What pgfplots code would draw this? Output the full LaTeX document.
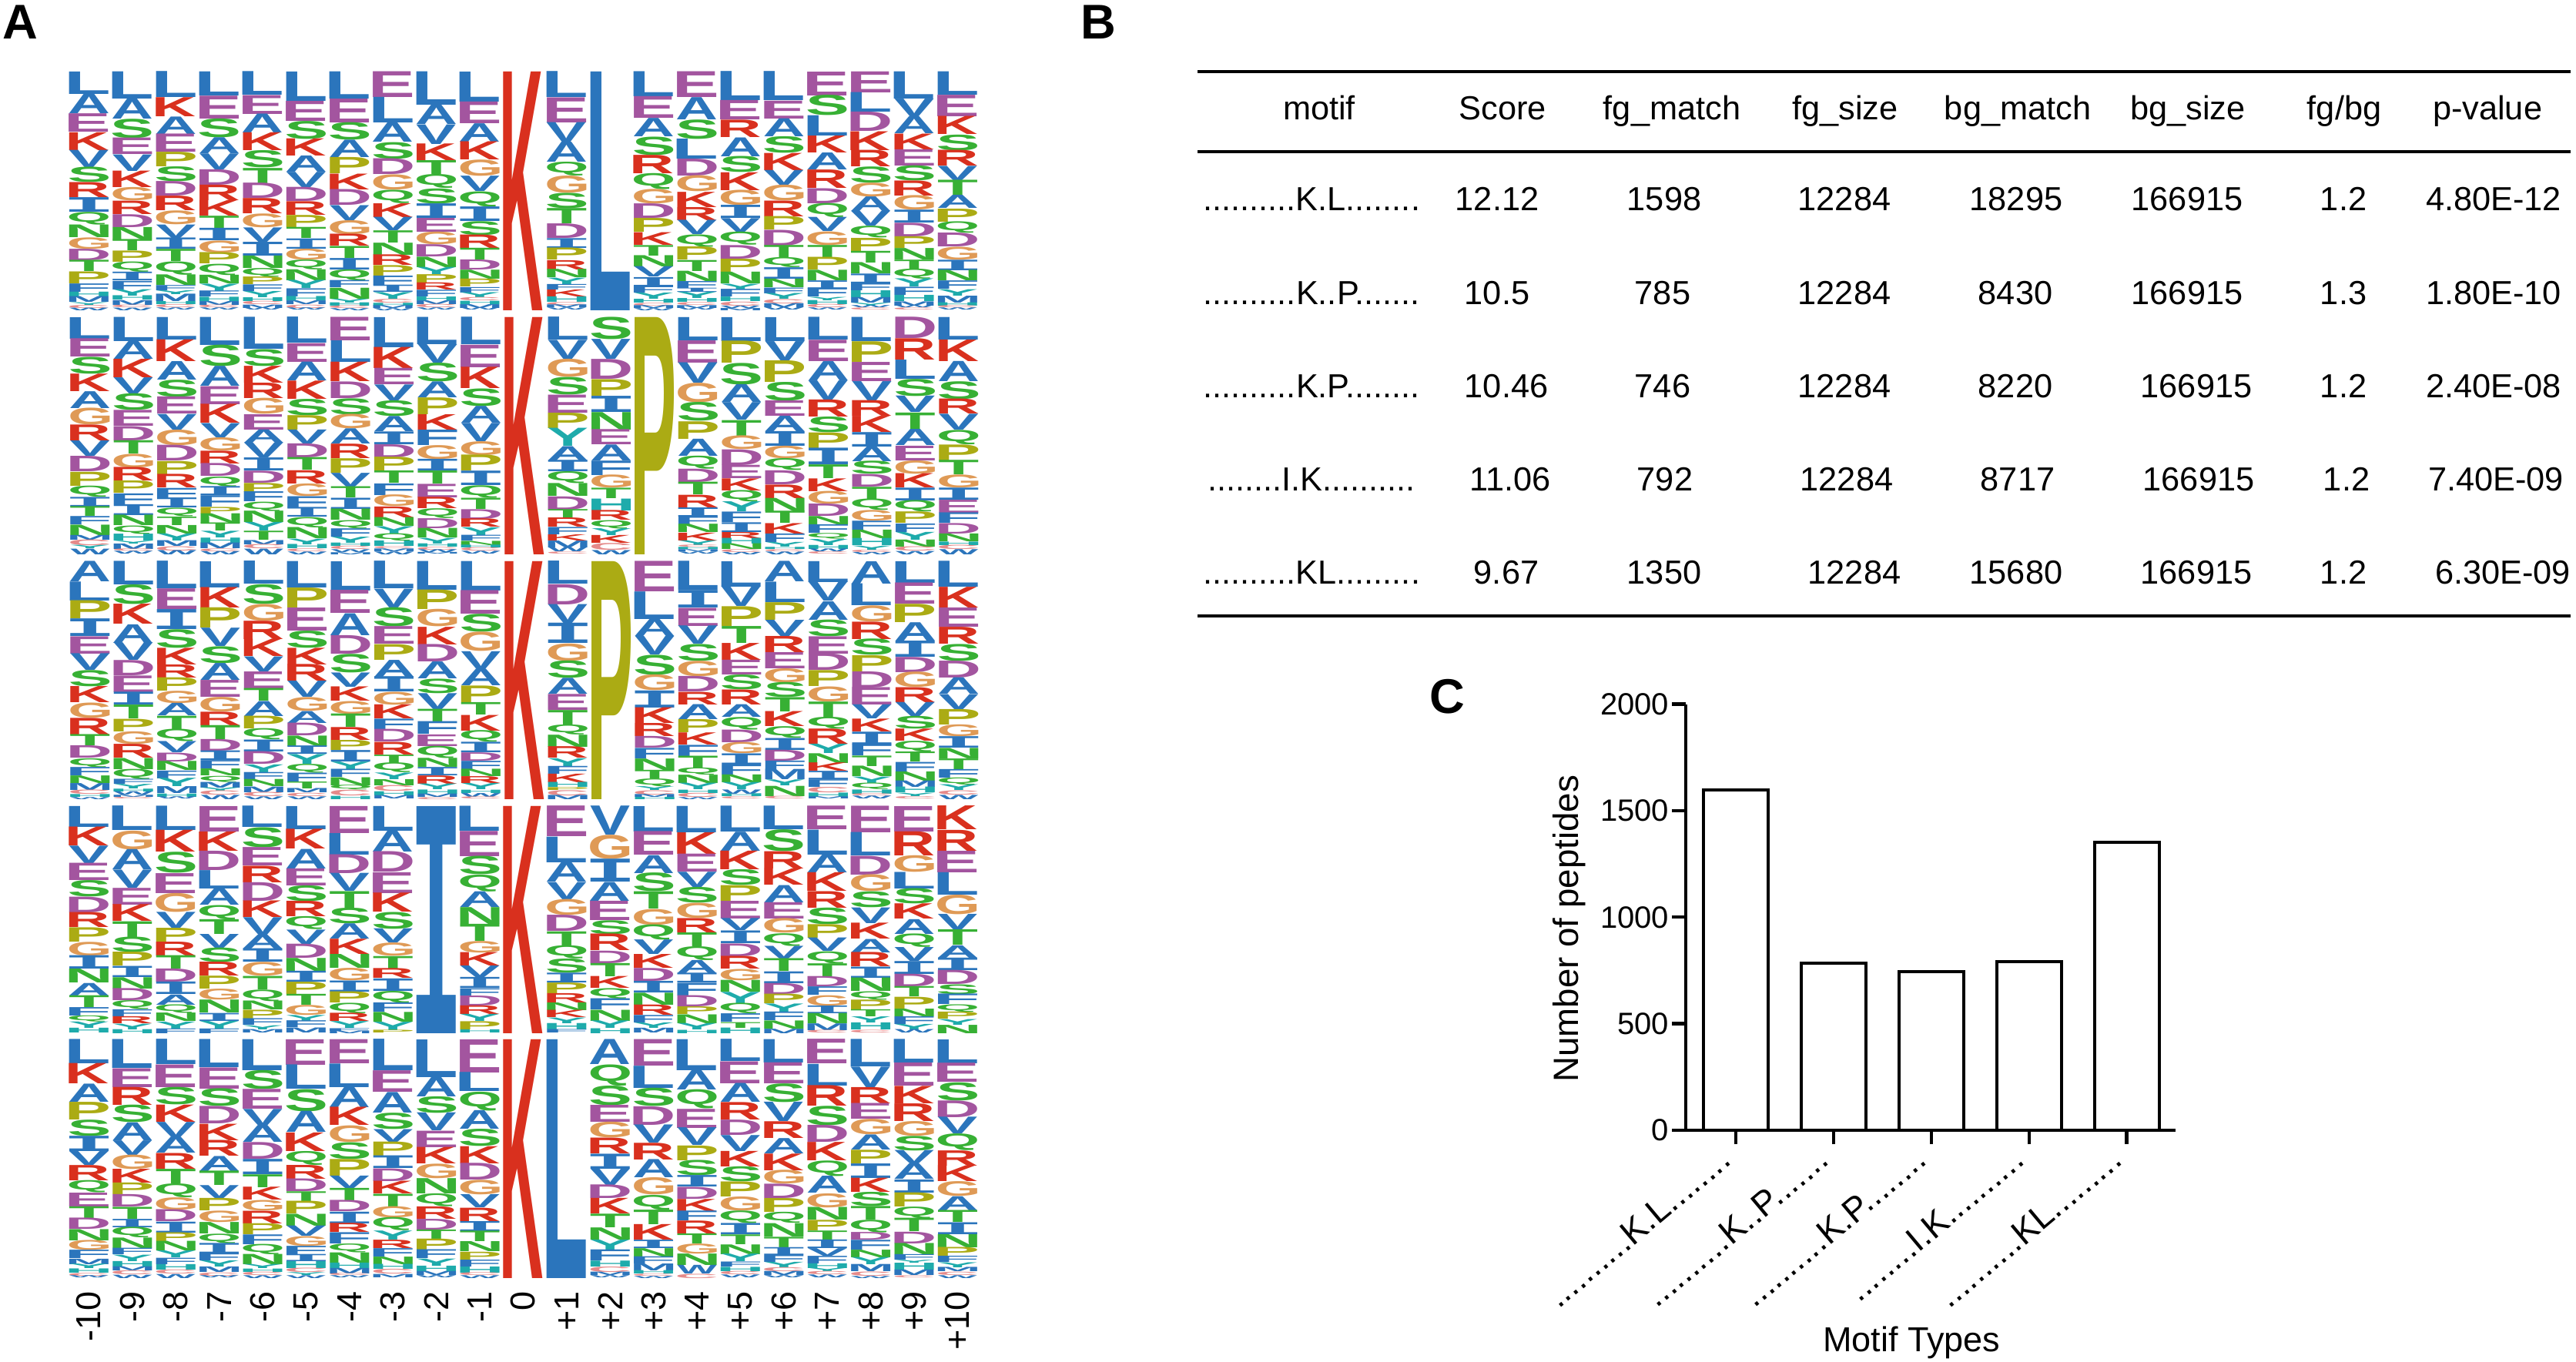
\documentclass[border=0pt]{standalone}
\usepackage{fontspec}
\setmainfont{Liberation Sans}
\newfontfamily\monof{Liberation Mono}
\usepackage{graphicx}
\usepackage{pgfplots}
\usepackage{pgfplotstable}
\pgfplotsset{compat=1.18}
\definecolor{lgA}{HTML}{2B75BC}\colorlet{lgL}{lgA}\colorlet{lgV}{lgA}\colorlet{lgI}{lgA}\colorlet{lgF}{lgA}\colorlet{lgM}{lgA}\colorlet{lgW}{lgA}
\definecolor{lgK}{HTML}{D9301E}\colorlet{lgR}{lgK}
\definecolor{lgE}{HTML}{A3559F}\colorlet{lgD}{lgE}
\definecolor{lgS}{HTML}{37B034}\colorlet{lgT}{lgS}\colorlet{lgN}{lgS}\colorlet{lgQ}{lgS}
\definecolor{lgG}{HTML}{DF9A56}
\definecolor{lgP}{HTML}{ABAB14}
\definecolor{lgY}{HTML}{1EABAB}\colorlet{lgH}{lgY}
\definecolor{lgC}{HTML}{E58A8A}
% --- each column: letters from top to bottom with their heights; stacked into a table
\newcount\lgsum \newcount\lgtop \newcount\lgcur
\def\rowdata{}
\def\lgsumeat#1#2 {\ifx#1\relax\else\advance\lgsum by #2\relax\expandafter\lgsumeat\fi}
\def\lgbld#1#2 {\ifx#1\relax\else
  \lgcur=\numexpr #2*1000/\lgsum\relax
  \advance\lgtop by -\lgcur
  \edef\lgtmp{\lgx\space\the\lgtop\space#1\the\lgcur\noexpand\\}%
  \xdef\rowdata{\unexpanded\expandafter{\rowdata}\unexpanded\expandafter{\lgtmp}}%
  \expandafter\lgbld\fi}
\newcommand\col[2]{\def\lgx{#1}\lgsum=0 \lgsumeat#2 \relax0 \lgtop=1000 \lgbld#2 \relax0 }
\newcommand\finishrow[1]{\edef\lgdo{\noexpand\pgfplotstableread[row sep=crcr]{x y m\noexpand\\\unexpanded\expandafter{\rowdata}}\noexpand#1}\lgdo\gdef\rowdata{}}
% Row 1
\col{-10}{L85 A75 E70 K68 V65 S58 R57 I55 Q48 N48 G44 D44 T43 P45 F32 H18 M22 Y10 C12 W10}
\col{-9}{L102 A75 S72 E62 V62 K62 G50 R50 D48 N46 T42 P42 Q38 I32 F32 Y24 H16 M18 C10 W10}
\col{-8}{L98 K72 A66 E68 P55 S56 D55 R55 G52 V50 I42 T46 Q50 N40 F20 Y14 M28 H12 C12 W8}
\col{-7}{L90 E85 S70 A60 V60 D58 R58 K58 T45 I46 G45 P42 Q42 N32 Y28 F22 H16 M14 C10 W8}
\col{-6}{L85 E68 A68 K65 S62 T55 D55 R55 G50 V52 I50 N45 Q32 P28 F24 Y22 H14 C12 M12 W8}
\col{-5}{L108 E74 S66 K63 A60 V56 D52 R50 P45 T40 I38 G40 Q36 N40 Y30 F30 H16 M14 C12 W8}
\col{-4}{L100 E88 S64 A64 P60 K58 D58 V55 G52 R44 T44 I42 Q40 F26 N40 Y14 H12 C10 W8}
\col{-3}{E93 L92 A70 S60 D57 G55 Q48 K50 V48 T44 N44 R38 P38 F34 I26 Y24 C14 H10 M10 W8}
\col{-2}{L120 A70 V70 K60 T50 Q50 S54 I52 E50 G45 D44 N38 Y26 P30 R26 F24 H14 M14 C12 W8}
\col{-1}{L108 E78 A66 K65 G58 V55 Q55 I52 S50 R48 T42 D36 N33 P28 F20 Y18 C12 H12 M14 W8}
\col{0}{K1000}
\col{1}{L93 E90 V70 A72 Q50 G62 S55 T55 D52 I35 P43 R33 N30 Y23 F20 K25 H20 C10 M10 W8}
\col{2}{L1000}
\col{3}{L90 E78 A66 S66 R66 Q57 G52 D52 P50 K45 T38 N40 V37 I33 F23 Y22 H14 C10 M10 W8}
\col{4}{E93 A80 S70 L72 D61 G58 K55 R47 V52 Q45 P47 T40 N37 F25 I15 Y22 H14 C10 M10 W8}
\col{5}{L100 E67 R60 A65 S55 K62 G53 I45 V47 Q45 D47 P45 N40 Y20 F26 H16 C14 W8 M8}
\col{6}{L102 E63 A63 S58 K60 V52 G55 R55 P47 D55 T43 Q35 I40 N30 F20 Y20 C15 M14 W8}
\col{7}{E85 S72 L72 K60 A60 R65 D53 Q50 V50 G48 T43 P45 N37 I30 F30 Y12 H14 C12 W8}
\col{8}{E75 L70 D69 K68 R59 S58 G50 A52 V53 Q42 P47 T42 N40 I35 F25 H25 M20 Y10 W8 C8}
\col{9}{L100 V65 A63 K58 E60 S55 R55 G53 I47 D50 P43 N42 T33 Q37 Y30 F30 H23 M16 W8 C8}
\col{10}{L85 E78 K66 S57 R57 V52 T55 A48 P48 Q42 D50 G47 I38 N38 F30 Y23 M25 H12 C8 W8}
\finishrow{\tabA}
% Row 2
\col{-10}{L77 E65 S60 K63 A60 G60 R57 V55 D55 P50 Q40 I35 T35 F30 N37 M17 C20 Y12 W20}
\col{-9}{L88 A65 K67 V59 S60 E58 D52 T48 G50 R49 P45 F40 I40 N38 Q30 H25 Y10 M20 C8 W10}
\col{-8}{L80 K77 A65 S60 E60 V55 G55 D55 P47 R48 F36 I35 Q30 T30 N30 Y25 M20 C15 W15}
\col{-7}{L98 S75 A70 E63 K67 V50 G47 R45 D45 Q35 I32 F40 P23 N33 T28 Y23 H18 M20 C10 W12}
\col{-6}{L113 S60 K60 R55 G56 E55 A47 V53 I46 D43 P32 F35 Q33 N40 Y30 T32 M15 C15 W20}
\col{-5}{L93 E67 A67 K65 S58 P52 V50 D50 T45 R47 G45 F40 I35 Q37 N40 Y20 H15 C10 W10}
\col{-4}{E85 L78 K70 D60 S58 G52 A55 R52 P52 V50 T40 I40 N40 Q30 F30 Y22 H12 C12 W10 M8}
\col{-3}{L110 K77 E60 V58 S57 A55 I47 D48 P50 T45 F42 G42 R40 N32 Y27 Q27 H20 C8 M10 W10}
\col{-2}{L98 V66 S67 A57 P60 K55 F55 G50 I42 T47 E48 R41 Q35 D36 N34 Y20 H12 C10 W10 M6}
\col{-1}{L98 E80 K76 S63 A60 V65 G50 P57 I52 Q45 T40 D35 R30 Y28 F20 N15 H10 C12 W10}
\col{0}{K1000}
\col{1}{L83 V68 G65 S63 E65 P55 Y65 A51 I41 Q43 N46 D48 T30 R33 F26 K22 M25 W15 C8}
\col{2}{S80 V72 D72 P60 I58 N63 E55 A57 F52 G47 T38 H43 R35 Q30 Y25 K28 C25 W15}
\col{3}{P1000}
\col{4}{L83 E80 V73 G70 S67 P63 A61 Q47 D48 T45 R45 I33 F28 N30 K28 Y17 C8 H8 M8 W8}
\col{5}{L85 P78 S76 A63 V62 T55 G49 D55 E47 K43 Q40 Y35 F37 I34 R22 H20 N20 C10 W8}
\col{6}{L85 V68 P77 S67 E55 A55 I52 G45 Q42 D50 R48 N47 T43 K37 F30 Y17 H8 C8 W10}
\col{7}{L80 E75 A67 V67 R60 S55 P55 I58 T48 K45 G45 D43 N29 F30 Q20 Y22 H14 W10 C8}
\col{8}{L85 P73 E68 V68 R55 K57 I51 A52 S46 D44 T43 Q40 G38 F32 N30 H25 Y14 C8 W8}
\col{9}{D75 R75 L68 S60 V58 T60 A57 E52 G47 K50 I45 Q40 P40 F30 Y28 N25 C15 W12}
\col{10}{L78 K75 A70 S62 R52 V55 Q50 P55 T50 G45 I42 E45 F36 D36 N27 H12 C15 W18}
\finishrow{\tabB}
% Row 3
\col{-10}{A73 L68 P65 I63 E62 V60 S58 K58 G55 R60 T40 D44 Q32 F30 N27 M25 C15 H10 W8}
\col{-9}{L85 S70 K72 A67 V63 D55 E60 I46 T50 P45 G45 R50 N40 Q37 F18 Y16 H10 W12 M8 C6}
\col{-8}{L100 E75 I72 S67 K60 R47 P48 G45 A45 T48 Q45 V40 D32 N33 F28 Y30 M25 H12 W8}
\col{-7}{L93 K73 P72 V65 S60 A60 E60 G53 R48 T50 D42 I34 F30 N25 Q22 M20 Y12 C15 W15}
\col{-6}{L82 S70 G60 R65 K62 V53 E60 T45 A53 P45 Q40 I42 D45 Y28 F25 N25 M20 C15 W10}
\col{-5}{L95 P72 E83 S62 K60 R60 V58 G50 A43 D45 N38 I30 Y35 Q32 F32 T25 M15 C12 W10}
\col{-4}{L103 E81 A77 D65 S65 V50 K50 G45 T47 R45 P35 I40 Y27 F28 N28 Q17 C20 H12}
\col{-3}{L98 V67 S68 E63 P56 A60 I54 G46 K50 F37 D45 R45 T30 Q35 Y24 N22 C20 H14 M12}
\col{-2}{L103 P70 G62 K63 D62 A60 S52 V57 T45 F45 E42 Q43 N32 I30 R30 Y20 H15 M12 C8}
\col{-1}{L107 E85 S65 G70 V65 A60 P60 T45 K57 Q42 I38 D30 F30 N27 R25 Y22 H12 W14 C8}
\col{0}{K1000}
\col{1}{L80 D70 V65 I70 G60 S60 A55 E55 T50 Q35 N42 R40 Y27 F27 K30 H17 P10 C18 M15}
\col{2}{P1000}
\col{3}{E107 L97 A60 V65 S70 G55 I60 K55 R46 D41 F37 N40 T30 Q28 Y13 C15 M10 H8}
\col{4}{L103 I63 E64 V65 S60 G55 D55 R45 A53 P47 K43 F40 T42 Q25 N30 Y23 H12 C14 W8}
\col{5}{L90 V70 P70 T60 K60 E52 S52 R53 A45 Q45 D45 G40 I40 F35 N28 Y25 W15 H10 C8}
\col{6}{A75 L75 P65 V60 R60 E60 G52 S55 T53 K55 Q43 I44 D40 F32 M38 Y22 N38 C10}
\col{7}{L75 V68 A67 S60 E62 D60 P57 G55 T55 Q43 R55 Y33 N35 K30 I30 F27 C20 H15 M8}
\col{8}{A80 L78 G58 R62 S58 P58 D58 E62 V50 K46 I46 F40 T37 N37 Y23 Q23 H15 C8 W10}
\col{9}{L77 E75 P65 A65 I57 D54 G55 R53 V50 S45 K43 Q38 T35 F34 N33 M23 H20 Y12 C8}
\col{10}{L92 K73 E68 R60 S60 D60 A58 V53 P55 G42 I40 N37 T38 F30 Q25 Y20 C15 W15}
\finishrow{\tabC}
% Row 4
\col{-10}{L75 K68 V63 E62 S59 D56 R54 P51 G50 I48 N50 A45 T42 F30 Q22 Y23 H17}
\col{-9}{L88 G68 A73 V65 E60 K60 T56 S55 P50 I40 N41 D43 Q32 F25 R25 Y20 H15}
\col{-8}{L87 K78 S75 E72 G68 V57 P50 R50 T48 D47 I45 A37 Q30 N30 Y25 F17}
\col{-7}{E92 K70 D70 L67 A60 Q52 T54 V50 S52 R50 P47 G40 N47 I29 Y28 F17}
\col{-6}{L77 S72 E66 R60 D67 K60 V63 A50 I48 G50 T48 Q42 N32 P32 F24 Y15 M12}
\col{-5}{L85 K73 A72 E63 S58 R57 Q48 V53 D52 N48 I40 P45 T40 G37 Y22 F25 M18}
\col{-4}{E98 L78 D68 V65 T60 S57 A55 K55 N50 G45 I40 P40 Q38 R30 Y25 F10 M10}
\col{-3}{L88 A75 D73 E75 K68 S60 V50 G47 T45 R35 I45 Q42 F33 N35 Y30 P10}
\col{-2}{I1000}
\col{-1}{L92 E93 S68 Q62 A58 N62 T63 G43 K49 V43 I40 F27 D37 R32 Y26 P30 H12}
\col{0}{K1000}
\col{1}{E110 L92 A71 V62 G57 D58 T50 Q47 S50 I35 P38 R33 N28 K26 Y20 H23 F12}
\col{2}{V105 G87 I83 A68 E70 S50 R60 D45 T48 K43 Q38 F40 N40 Y27 H18}
\col{3}{L92 E85 A65 S67 T62 G57 Q55 V52 K50 D47 I42 N43 R37 F27 Y20 M17}
\col{4}{L95 K78 E65 V55 S57 G55 R52 T50 Q50 A48 I35 F46 D40 P28 N32 Y23 H12}
\col{5}{L92 A68 K66 S56 P56 E63 V43 I45 D45 R45 G40 N42 Y40 Q37 F30 T20 H20}
\col{6}{L87 S80 R63 K60 A63 E60 G53 Q47 V47 T47 I43 D40 P35 Y30 F32 N30 M17}
\col{7}{E85 L90 A65 K67 R60 S60 P49 V48 Q44 T47 D37 F30 G38 I28 N37 M25 C10}
\col{8}{E95 L83 D67 G60 S57 V56 K57 A48 R51 I40 N48 Q30 P35 T25 Y22 H25 C10}
\col{9}{E92 R87 G60 L60 S55 K55 A53 Q48 V50 I47 D45 T37 P43 N28 F28 Y20 W12}
\col{10}{K85 R75 E77 L80 G70 V55 T55 A45 I45 D50 S35 F37 Q27 P25 Y20 N30}
\finishrow{\tabD}
% Row 5
\col{-10}{L87 K73 A65 P63 S58 I55 V50 R55 Q44 E50 T42 D40 N40 G35 F30 M20 Y16 H15 C10 W8}
\col{-9}{L105 E68 R65 S63 A65 V53 G52 K50 P42 D45 T43 I30 Q38 N38 F23 Y23 H20 M15 C15 W12}
\col{-8}{L92 E82 S63 K62 V55 A58 R57 T53 Q50 G45 D43 I40 P32 N35 Y25 F23 H20 C15 W15}
\col{-7}{L102 E77 S64 D63 K60 R57 A55 T52 V47 P45 G42 N42 Q35 I38 F26 Y23 M20 C12 W8}
\col{-6}{L112 S68 E72 V60 A60 D60 I55 T47 K47 G38 R46 P40 F35 Q37 N37 Y15 H12 C12 W10}
\col{-5}{E92 L87 S80 A75 K67 Q50 R50 D45 T35 P45 N43 V37 G35 F30 I26 H25 C15 Y10 W10}
\col{-4}{E87 L85 A73 K65 G60 S60 P60 V45 T45 D40 I42 R33 F40 Q32 N37 H20 M20 C8 W8}
\col{-3}{L112 E76 A73 S58 V45 P50 I45 D45 K45 T45 G40 Q47 Y32 R30 F30 N27 H18 C17 M12}
\col{-2}{L137 A70 S60 V65 E60 K60 G53 N55 Q47 R45 D39 T34 P40 F32 Y26 H20 M15 W8}
\col{-1}{E119 L69 Q68 A67 S62 K62 D60 G52 V47 R48 I36 T38 N36 P28 F25 H22 C10 W10}
\col{0}{K1000}
\col{1}{L1000}
\col{2}{A92 Q78 S72 E62 G58 R58 I55 V60 D50 K57 T50 N45 Y37 F40 H22 C20 M12 W8}
\col{3}{E95 L80 S65 D67 V65 R60 A65 G62 Q53 T52 K56 I30 N30 F26 M25 H12 C8 W8}
\col{4}{L109 A68 Q67 E67 V62 P52 S54 I40 D42 K43 F34 R45 T35 G35 N40 W30 C15}
\col{5}{L79 E78 A67 R62 D54 V57 K55 S53 P53 G50 Q45 I40 T35 N35 Y27 F18 H15 C12 W10}
\col{6}{L84 E76 S67 V70 R60 A55 K60 G50 D52 P50 Q40 N48 T38 I28 F25 Y20 C15 M15 W8}
\col{7}{E87 L77 R73 S68 D60 K65 Q55 A60 G50 N45 P37 T32 I30 V27 F27 H17 Y12 C12 W10}
\col{8}{L97 V73 R58 E56 G55 A53 P48 I52 K50 S50 T48 Q45 D27 F35 N27 Y25 M25 C15 W8}
\col{9}{L84 E83 K62 R63 G53 S52 V48 A55 I47 P50 Q42 T48 D42 N40 F20 Y10 H25 M20 C8}
\col{10}{L85 E68 S65 D60 V60 Q60 R55 K56 G53 A50 T43 I43 N47 P32 F22 Y18 M15 C12 W10}
\finishrow{\tabE}
% Draw one letter, its ink filling the box
\def\lgI{I}
\def\lgsplit#1#2\lgend{\def\lgHH{#2}\lgbox{#1}}
\def\lgbox#1{\begingroup
  \edef\lgthis{#1}\ifx\lgthis\lgI\monof\fi\bfseries
  \setbox0=\hbox{#1}%
  \dimen2=\XeTeXglyphbounds1 \XeTeXcharglyph`#1\relax
  \dimen4=\XeTeXglyphbounds3 \XeTeXcharglyph`#1\relax
  \setbox2=\hbox{\kern-\dimen2 \unhbox0 \kern-\dimen4}%
  \textcolor{lg#1}{\resizebox*{15.3pt}{\dimexpr\lgrs*\lgHH\relax}{\box2}}%
  \endgroup}
\pgfplotsset{
  logo/.style={scale only axis,width=355.32pt,anchor=south west,clip=false,
    xmin=-10.5,xmax=10.5,ymin=0,ymax=1000,
    axis line style={draw=none},tick style={draw=none},major tick length=0pt,
    ytick=\empty,xtick=\empty},
  logoplot/.style={only marks,mark=none,draw=none,
    point meta=explicit symbolic,
    nodes near coords={\edef\lgtm{\pgfplotspointmeta}\expandafter\lgsplit\lgtm\lgend},
    nodes near coords style={anchor=south,inner sep=0pt,outer sep=0pt}},
}
\newcommand\Tx[3]{\node[anchor=base,inner sep=0pt,font=\fontsize{13}{15}\selectfont] at (#1*0.3pt,-#2*0.3pt) {#3};}
\protected\def\mA{..........K.L........}
\protected\def\mB{..........K..P.......}
\protected\def\mC{..........K.P........}
\protected\def\mD{........I.K..........}
\protected\def\mE{..........KL.........}
\begin{document}
\begin{tikzpicture}
\path[use as bounding box] (0,0) rectangle (1003.5pt,-530.4pt);
% Panel letters
\node[anchor=base,inner sep=0pt,font=\fontsize{19}{21}\selectfont\bfseries] at (26*0.3pt,-50*0.3pt) {A};
\node[anchor=base,inner sep=0pt,font=\fontsize{19}{21}\selectfont\bfseries] at (1426*0.3pt,-50*0.3pt) {B};
\node[anchor=base,inner sep=0pt,font=\fontsize{19}{21}\selectfont\bfseries] at (1879*0.3pt,-926*0.3pt) {C};
% Panel A
\def\lgrs{.093pt}
\begin{axis}[logo,at={(26.19pt,-120.9pt)},height=93pt]
\addplot[logoplot] table[x=x,y=y,meta=m]{\tabA};
\end{axis}
\def\lgrs{.0924pt}
\begin{axis}[logo,at={(26.6pt,-216pt)},height=92.4pt]
\addplot[logoplot] table[x=x,y=y,meta=m]{\tabB};
\end{axis}
\def\lgrs{.0927pt}
\begin{axis}[logo,at={(26.6pt,-311.4pt)},height=92.7pt]
\addplot[logoplot] table[x=x,y=y,meta=m]{\tabC};
\end{axis}
\def\lgrs{.0885pt}
\begin{axis}[logo,at={(26.19pt,-402.6pt)},height=88.5pt]
\addplot[logoplot] table[x=x,y=y,meta=m]{\tabD};
\end{axis}
\def\lgrs{.093pt}
\begin{axis}[logo,at={(26.19pt,-498pt)},height=93pt,
  xtick={-10,-9,-8,-7,-6,-5,-4,-3,-2,-1,0,1,2,3,4,5,6,7,8,9,10},
  xticklabels={-10,-9,-8,-7,-6,-5,-4,-3,-2,-1,0,+1,+2,+3,+4,+5,+6,+7,+8,+9,+10},
  x tick label style={rotate=90,anchor=east,inner sep=0pt,xshift=-5pt,yshift=0pt,font=\fontsize{13.5}{15}\selectfont}]
\addplot[logoplot] table[x=x,y=y,meta=m]{\tabE};
\end{axis}
% Panel B: table
\draw[line width=1pt] (1555*0.3pt,-93*0.3pt) -- (3338*0.3pt,-93*0.3pt);
\draw[line width=1pt] (1555*0.3pt,-197*0.3pt) -- (3338*0.3pt,-197*0.3pt);
\draw[line width=1pt] (1555*0.3pt,-800*0.3pt) -- (3338*0.3pt,-800*0.3pt);
\Tx{1713}{155}{motif}\Tx{1951}{155}{Score}\Tx{2171}{155}{fg\_match}\Tx{2396}{155}{fg\_size}\Tx{2620}{155}{bg\_match}\Tx{2841}{155}{bg\_size}\Tx{3044}{155}{fg/bg}\Tx{3230}{155}{p-value}
\Tx{1703}{273}{\mA}\Tx{1944}{273}{12.12}\Tx{2161}{273}{1598}\Tx{2395}{273}{12284}\Tx{2618}{273}{18295}\Tx{2840}{273}{166915}\Tx{3043}{273}{1.2}\Tx{3238}{273}{4.80E-12}
\Tx{1703}{395}{\mB}\Tx{1944}{395}{10.5}\Tx{2159}{395}{785}\Tx{2395}{395}{12284}\Tx{2617}{395}{8430}\Tx{2840}{395}{166915}\Tx{3043}{395}{1.3}\Tx{3238}{395}{1.80E-10}
\Tx{1703}{516}{\mC}\Tx{1956}{516}{10.46}\Tx{2159}{516}{746}\Tx{2395}{516}{12284}\Tx{2617}{516}{8220}\Tx{2852}{516}{166915}\Tx{3043}{516}{1.2}\Tx{3238}{516}{2.40E-08}
\Tx{1703}{637}{\mD}\Tx{1961}{637}{11.06}\Tx{2162}{637}{792}\Tx{2398}{637}{12284}\Tx{2620}{637}{8717}\Tx{2855}{637}{166915}\Tx{3047}{637}{1.2}\Tx{3241}{637}{7.40E-09}
\Tx{1703}{758}{\mE}\Tx{1956}{758}{9.67}\Tx{2161}{758}{1350}\Tx{2408}{758}{12284}\Tx{2618}{758}{15680}\Tx{2852}{758}{166915}\Tx{3043}{758}{1.2}\Tx{3250}{758}{6.30E-09}
% Panel C
\begin{axis}[scale only axis,width=190.8pt,height=166.05pt,at={(656.7pt,-440.4pt)},anchor=south west,clip=false,
  xmin=-0.512,xmax=4.5,ymin=0,ymax=2000,
  axis x line=bottom,axis y line=left,axis line style={-,line width=1.3pt},
  tick align=outside,major tick length=5.4pt,tick style={line width=1.3pt,black},
  xtick={0,1,2,3,4},ytick={0,500,1000,1500,2000},
  xticklabels={\mA,\mB,\mC,\mD,\mE},
  x tick label style={rotate=40,anchor=north east,inner sep=0pt,xshift=-5.5pt,yshift=4.6pt,font=\fontsize{13.6}{15}\selectfont},
  y tick label style={font=\fontsize{12}{14}\selectfont,inner sep=1pt},
  /pgf/number format/assume math mode=true,/pgf/number format/1000 sep={},
  ylabel={Number of peptides},xlabel={Motif Types},
  ylabel style={at={(axis description cs:-0.238,0.473)},anchor=center,rotate=0,font=\fontsize{13.7}{16}\selectfont,inner sep=0pt},
  xlabel style={at={(axis description cs:0.461,-0.499)},anchor=center,font=\fontsize{13.5}{16}\selectfont,inner sep=0pt},
  ybar,bar width=25.2pt]
\addplot[fill=white,draw=black,line width=1.2pt] coordinates {(0,1598) (1,785) (2,746) (3,792) (4,1350)};
\end{axis}
\end{tikzpicture}
\end{document}
